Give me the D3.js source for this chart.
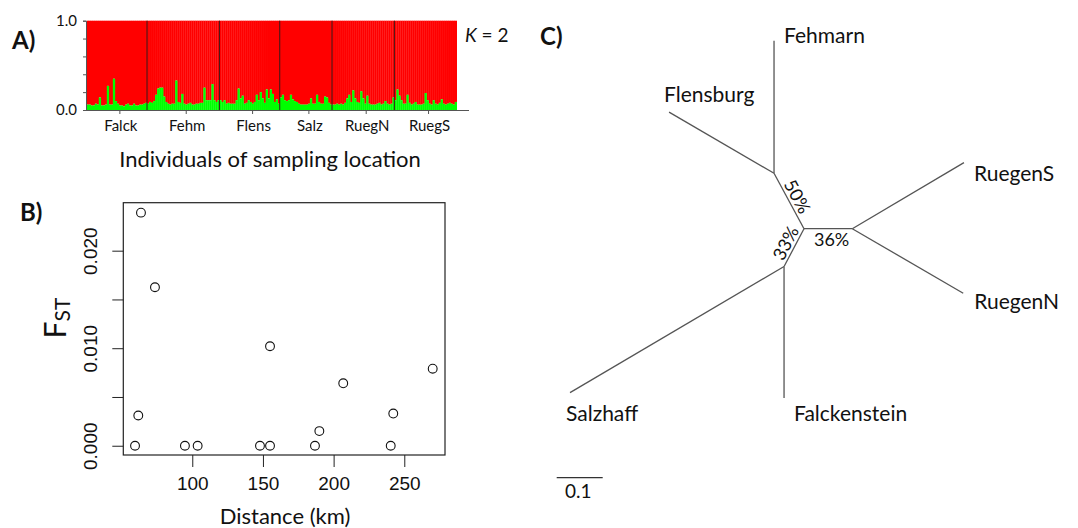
<!DOCTYPE html>
<html>
<head>
<meta charset="utf-8">
<script src="https://cdnjs.cloudflare.com/ajax/libs/d3/7.8.5/d3.min.js"></script>
<style>
  body { margin: 0; background: #fff; }
  text { fill: #111; }
</style>
</head>
<body>
<div id="chart"></div>
<script>
// ---------- data ----------
// A) STRUCTURE K = 2, membership of the green cluster per individual
var popNames = ["Falck", "Fehm", "Flens", "Salz", "RuegN", "RuegS"];
var falck = [0.06,0.06,0.05,0.05,0.07,0.06,0.14,0.05,0.05,0.06,0.27,0.06,0.06,0.35,0.10,
             0.07,0.05,0.05,0.04,0.06,0.07,0.05,0.05,0.07,0.05,0.05,0.06,0.06,0.07,0.08];
var fehm = [0.07,0.09,0.08,0.10,0.17,0.24,0.25,0.25,0.15,0.09,0.07,0.06,0.07,0.07,0.33,0.09,0.08,0.18,
            0.07,0.06,0.07,0.08,0.06,0.06,0.07,0.07,0.08,0.08,0.25,0.11,0.11,0.11,0.29,0.11,0.09,0.11];
var flens = [0.11,0.09,0.11,0.07,0.08,0.07,0.07,0.07,0.11,0.24,0.13,0.16,0.07,0.08,0.11,
             0.09,0.07,0.09,0.17,0.11,0.20,0.13,0.08,0.23,0.13,0.23,0.18,0.09,0.12,0.07];
var salz = [0.14,0.17,0.11,0.10,0.11,0.17,0.12,0.10,0.09,0.07,0.06,0.06,0.06,
            0.06,0.07,0.13,0.07,0.07,0.17,0.09,0.07,0.07,0.15,0.14,0.08,0.06];
var ruegN = [0.06,0.06,0.07,0.06,0.07,0.06,0.08,0.13,0.17,0.09,0.22,0.13,0.09,0.08,0.21,0.13,
             0.07,0.16,0.07,0.06,0.06,0.06,0.07,0.08,0.06,0.07,0.10,0.07,0.06,0.07,0.14];
var ruegS = [0.11,0.23,0.16,0.11,0.07,0.07,0.17,0.08,0.06,0.07,0.09,0.06,0.06,0.06,0.07,0.19,
             0.11,0.07,0.06,0.11,0.07,0.06,0.08,0.12,0.07,0.06,0.07,0.08,0.07,0.06,0.09];
var membership = [falck, fehm, flens, salz, ruegN, ruegS];
var yTicksA = [0, 0.2, 0.4, 0.6, 0.8, 1.0];

// B) pairwise FST against geographic distance
var distances = [59.5, 61.8, 63.7, 73.6, 94.8, 103.8, 147.9, 155.0, 155.0, 186.8, 189.9, 206.8, 240.4, 242.2, 270.1];
var fst = [0.0, 0.0031, 0.0239, 0.01625, 0.0, 0.0, 0.0, 0.0, 0.0102, 0.0, 0.0015, 0.0064, 0.0, 0.0033, 0.0079];
var xTicksB = [100, 150, 200, 250];
var yTicksB = [0, 0.005, 0.010, 0.015, 0.020];

// C) unrooted neighbour-joining tree: branch lengths and directions
var treeEdges = [
  {from: "A", to: "F", length: 0.137, angle: 118.4},
  {from: "F", to: "Fehmarn", length: 0.288, angle: 90},
  {from: "F", to: "Flensburg", length: 0.264, angle: 149.8},
  {from: "A", to: "B", length: 0.105, angle: 0},
  {from: "B", to: "RuegenS", length: 0.282, angle: 30.6},
  {from: "B", to: "RuegenN", length: 0.279, angle: -30.2},
  {from: "A", to: "C", length: 0.093, angle: -117.8},
  {from: "C", to: "Falckenstein", length: 0.286, angle: -90},
  {from: "C", to: "Salzhaff", length: 0.540, angle: -149.5}
];
var supportNodes = ["F", "B", "C"];
var supportValues = ["50%", "36%", "33%"];
var scaleBarValue = 0.1;

// ---------- svg ----------
var svg = d3.select("#chart").append("svg")
  .attr("width", 1078)
  .attr("height", 528);

var calibri = "Lato, 'Open Sans', sans-serif";
var arial = "'Liberation Sans', Arial, sans-serif";

// ================= panel A =================
var gA = svg.append("g");
var individuals = [];
membership.forEach(function(arr, p) {
  arr.forEach(function(v, i) {
    individuals.push({pop: p, id: popNames[p] + i, green: v});
  });
});

var xA = d3.scaleBand()
  .domain(individuals.map(function(d) { return d.id; }))
  .range([86.7, 456.7])
  .padding(0);
var yA = d3.scaleLinear().domain([0, 1]).range([110, 20.7]);

// red part
gA.selectAll("rect.red")
  .data(individuals)
  .enter().append("rect")
    .attr("class", "red")
    .attr("x", function(d) { return xA(d.id); })
    .attr("width", xA.bandwidth() + 0.3)
    .attr("y", yA(1))
    .attr("height", function(d) { return yA(d.green) - yA(1); })
    .attr("fill", "#ff0000");

// green part
gA.selectAll("rect.green")
  .data(individuals)
  .enter().append("rect")
    .attr("class", "green")
    .attr("x", function(d) { return xA(d.id); })
    .attr("width", xA.bandwidth() + 0.3)
    .attr("y", function(d) { return yA(d.green); })
    .attr("height", function(d) { return yA(0) - yA(d.green); })
    .attr("fill", "#00ff00");

// population separators
var popStart = [], idx = 0;
membership.forEach(function(arr) { popStart.push(idx); idx += arr.length; });
gA.selectAll("line.sep")
  .data(popStart.slice(1))
  .enter().append("line")
    .attr("x1", function(d) { return xA(individuals[d].id); })
    .attr("x2", function(d) { return xA(individuals[d].id); })
    .attr("y1", yA(1))
    .attr("y2", yA(0))
    .attr("stroke", "#3a1a1a")
    .attr("stroke-width", 1);

// left axis
var axisA = gA.append("g")
  .attr("transform", "translate(86,0)")
  .call(d3.axisLeft(yA).tickValues(yTicksA).tickSize(3).tickPadding(6)
    .tickFormat(function(d) { return (d === 0 || d === 1) ? d3.format(".1f")(d) : ""; }));
axisA.selectAll("path, line").attr("stroke", "#555");
axisA.selectAll("text").style("font-family", calibri).style("font-size", "15px").attr("fill", "#111");

// bottom axis with population labels
var popCenters = popStart.map(function(s, p) {
  return xA(individuals[s].id) + membership[p].length * xA.bandwidth() / 2;
});
gA.append("line")
  .attr("x1", 86).attr("x2", 469)
  .attr("y1", yA(0) + 0.5).attr("y2", yA(0) + 0.5)
  .attr("stroke", "#555");
gA.selectAll("line.ptick")
  .data(popCenters)
  .enter().append("line")
    .attr("x1", function(d) { return d + 3; })
    .attr("x2", function(d) { return d + 3; })
    .attr("y1", yA(0)).attr("y2", yA(0) + 4)
    .attr("stroke", "#555");
gA.selectAll("text.plab")
  .data(popNames)
  .enter().append("text")
    .attr("x", function(d, i) { return popCenters[i] + 4; })
    .attr("y", 131)
    .attr("text-anchor", "middle")
    .style("font-family", calibri)
    .style("font-size", "15px")
    .text(function(d) { return d; });

gA.append("text")
  .attr("x", 270).attr("y", 167)
  .attr("text-anchor", "middle")
  .style("font-family", calibri).style("font-size", "22px")
  .text("Individuals of sampling location");

var kLab = gA.append("text")
  .attr("x", 465).attr("y", 42)
  .style("font-family", calibri).style("font-size", "19px");
kLab.append("tspan").style("font-style", "italic").text("K");
kLab.append("tspan").text(" = 2");

gA.append("text")
  .attr("x", 12).attr("y", 49)
  .style("font-family", calibri).style("font-size", "24px").style("font-weight", "bold")
  .text("A)");

// ================= panel B =================
var gB = svg.append("g");
var xB = d3.scaleLinear().domain([51.2, 278.8]).range([123.3, 445]);
var yB = d3.scaleLinear().domain([-0.00095, 0.02492]).range([455, 202.7]);

gB.append("rect")
  .attr("x", xB.range()[0]).attr("y", yB.range()[1])
  .attr("width", xB.range()[1] - xB.range()[0])
  .attr("height", yB.range()[0] - yB.range()[1])
  .attr("fill", "none").attr("stroke", "#222").attr("stroke-width", 1.2);

var axisBx = gB.append("g")
  .attr("transform", "translate(0,455)")
  .call(d3.axisBottom(xB).tickValues(xTicksB).tickSize(12).tickPadding(10));
axisBx.select(".domain").remove();
axisBx.selectAll("line").attr("stroke", "#222");
axisBx.selectAll("text").style("font-family", arial).style("font-size", "19px").attr("fill", "#111");

var axisBy = gB.append("g")
  .attr("transform", "translate(123.3,0)")
  .call(d3.axisLeft(yB).tickValues(yTicksB).tickSize(11)
    .tickFormat(function(d) { return (Math.round(d * 1000) % 10 === 0) ? d3.format(".3f")(d) : ""; }));
axisBy.select(".domain").remove();
axisBy.selectAll("line").attr("stroke", "#222");
axisBy.selectAll("text")
  .attr("transform", "rotate(-90)")
  .attr("x", 0).attr("y", -26.5).attr("dy", 0)
  .attr("text-anchor", "middle")
  .style("font-family", arial).style("font-size", "19px").attr("fill", "#111");

gB.selectAll("circle")
  .data(distances)
  .enter().append("circle")
    .attr("cx", function(d) { return xB(d); })
    .attr("cy", function(d, i) { return yB(fst[i]); })
    .attr("r", 4.4)
    .attr("fill", "none")
    .attr("stroke", "#111")
    .attr("stroke-width", 1.1);

gB.append("text")
  .attr("x", 285).attr("y", 524)
  .attr("text-anchor", "middle")
  .style("font-family", calibri).style("font-size", "22px")
  .text("Distance (km)");

var fLab = gB.append("text")
  .attr("transform", "translate(66,318) rotate(-90)")
  .attr("text-anchor", "middle")
  .style("font-family", calibri);
fLab.append("tspan").style("font-size", "30px").text("F");
fLab.append("tspan").attr("dy", 4).style("font-size", "21px").text("ST");

gB.append("text")
  .attr("x", 20).attr("y", 221)
  .style("font-family", calibri).style("font-size", "24px").style("font-weight", "bold")
  .text("B)");

// ================= panel C =================
var gC = svg.append("g");
var tx = d3.scaleLinear().domain([0, 0.1]).range([804, 850]);
var ty = d3.scaleLinear().domain([0, 0.1]).range([228.7, 182.7]);

var pos = {A: {x: 0, y: 0}};
treeEdges.forEach(function(e) {
  var a = e.angle * Math.PI / 180;
  pos[e.to] = {x: pos[e.from].x + e.length * Math.cos(a), y: pos[e.from].y + e.length * Math.sin(a)};
});

gC.selectAll("line.edge")
  .data(treeEdges)
  .enter().append("line")
    .attr("x1", function(e) { return tx(pos[e.from].x); })
    .attr("y1", function(e) { return ty(pos[e.from].y); })
    .attr("x2", function(e) { return tx(pos[e.to].x); })
    .attr("y2", function(e) { return ty(pos[e.to].y); })
    .attr("stroke", "#555")
    .attr("stroke-width", 1.3);

// tip labels: [dx, dy] from the tip
var tipOffset = {
  Fehmarn: [10, -5], Flensburg: [-5, -18], RuegenS: [10, 11],
  RuegenN: [11, 8.5], Falckenstein: [10, 15], Salzhaff: [-4, 20.5]
};
var tips = treeEdges.filter(function(e) { return tipOffset[e.to]; });
gC.selectAll("text.tip")
  .data(tips)
  .enter().append("text")
    .attr("x", function(e) { return tx(pos[e.to].x) + tipOffset[e.to][0]; })
    .attr("y", function(e) { return ty(pos[e.to].y) + tipOffset[e.to][1]; })
    .attr("dy", "0.36em")
    .style("font-family", calibri).style("font-size", "21px")
    .text(function(e) { return e.to; });

// support values along internal edges
supportNodes.forEach(function(n, i) {
  var e = treeEdges.filter(function(d) { return d.to === n; })[0];
  var x1 = tx(pos[e.from].x), y1 = ty(pos[e.from].y);
  var x2 = tx(pos[e.to].x), y2 = ty(pos[e.to].y);
  var rot = Math.atan2(y2 - y1, x2 - x1) * 180 / Math.PI;
  if (rot > 90) rot -= 180;
  if (rot < -90) rot += 180;
  var below = Math.abs(rot) < 1;
  gC.append("text")
    .attr("transform", "translate(" + ((x1 + x2) / 2 + (below ? 3.5 : 0)) + "," + ((y1 + y2) / 2) + ") rotate(" + rot + ")")
    .attr("y", below ? 17.5 : -3)
    .attr("text-anchor", "middle")
    .style("font-family", calibri).style("font-size", "18px")
    .text(supportValues[i]);
});

// scale bar
var barLen = tx(scaleBarValue) - tx(0);
gC.append("line")
  .attr("x1", 556.7).attr("x2", 556.7 + barLen)
  .attr("y1", 477.7).attr("y2", 477.7)
  .attr("stroke", "#333").attr("stroke-width", 1.3);
gC.append("text")
  .attr("x", 565).attr("y", 498)
  .style("font-family", calibri).style("font-size", "19px")
  .text(d3.format(".1f")(scaleBarValue));

gC.append("text")
  .attr("x", 540).attr("y", 45)
  .style("font-family", calibri).style("font-size", "24px").style("font-weight", "bold")
  .text("C)");
</script>
</body>
</html>
